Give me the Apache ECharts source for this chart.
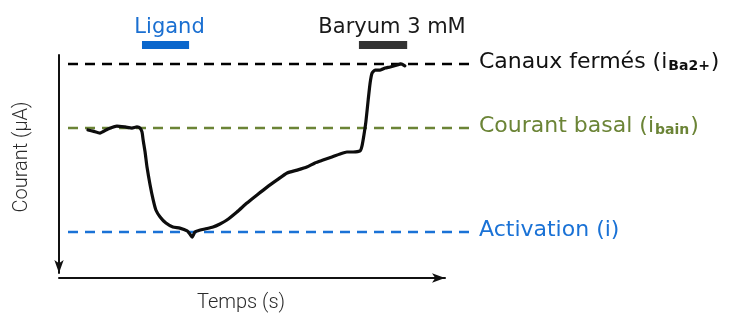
<!DOCTYPE html>
<html>
<head>
<meta charset="utf-8">
<script src="https://cdn.jsdelivr.net/npm/echarts@6/dist/echarts.min.js"></script>
<style>
  html, body { margin: 0; padding: 0; background: #fff; }
  #chart { width: 732px; height: 320px; }
</style>
</head>
<body>
<div id="chart"></div>
<script>
// Recorded current trace (time in s, current in µA, axis pointing downward)
const traceTime = [7.5, 8.8, 10.6, 12.7, 15.0, 17.1, 18.9, 20.2, 21.0, 21.5, 21.8, 22.3, 22.8, 23.6, 24.4, 25.1, 26.2, 27.7, 29.5, 31.3, 33.2, 33.9, 34.5, 35.2, 35.8, 37.8, 39.9, 41.7, 43.5, 46.1, 48.7, 51.3, 53.9, 56.5, 59.1, 61.7, 64.2, 66.3, 68.4, 70.7, 72.8, 74.6, 76.2, 78.0, 78.5, 79.0, 79.5, 80.1, 80.6, 81.1, 81.9, 83.2, 84.5, 85.8, 87.6, 88.6, 89.6];
const traceCurrent = [34.4, 34.9, 35.8, 33.9, 32.6, 33.0, 33.5, 33.0, 33.5, 35.3, 39.0, 44.5, 51.4, 59.6, 66.5, 71.1, 74.3, 77.1, 78.9, 79.4, 80.7, 82.1, 83.5, 81.2, 80.7, 79.8, 78.9, 77.5, 75.7, 72.0, 67.9, 64.2, 60.6, 57.3, 54.1, 52.8, 51.4, 49.5, 48.2, 46.8, 45.4, 44.5, 44.5, 44.0, 41.7, 36.7, 30.7, 20.6, 12.8, 8.3, 6.9, 6.9, 6.0, 5.5, 4.6, 4.1, 5.0];

// Reference current levels
const levelNames = ['Canaux fermés', 'Courant basal', 'Activation'];
const levelValues = [4.1, 33.5, 81.2];

// Application periods (start, end in s) and their labels
const applicationNames = ['Ligand', 'Baryum 3 mM'];
const applicationStart = [21.5, 77.7];
const applicationEnd = [33.7, 90.2];
const applicationLevel = -4.6;

const levelStyles = [
  { color: '#000000', text: '#111111', rich: '{a|Canaux fermés (i}{s|Ba2+}{a|)}' },
  { color: '#6b8436', text: '#6b8436', rich: '{a|Courant basal (i}{s|bain}{a|)}' },
  { color: '#1a72d6', text: '#1a72d6', rich: '{a|Activation (i)}' }
];
const applicationStyles = [
  { bar: '#0a66cc', text: '#1a6fd1', dx: 4 },
  { bar: '#333333', text: '#1a1a1a', dx: 9 }
];

const labelFont = '"DejaVu Sans", Verdana, sans-serif';

const series = [];

// Dashed reference levels with their names at the right end
levelValues.forEach(function (v, i) {
  const st = levelStyles[i];
  series.push({
    name: levelNames[i],
    type: 'line',
    xAxisIndex: 1,
    yAxisIndex: 1,
    data: [[0, v], [1, v]],
    symbol: 'none',
    silent: true,
    animation: false,
    lineStyle: { color: st.color, width: 2.5, type: [10, 7] },
    endLabel: {
      show: true,
      distance: 4,
      offset: [0, -2],
      formatter: st.rich,
      rich: {
        a: { fontFamily: labelFont, fontSize: 22, color: st.text },
        s: { fontFamily: labelFont, fontSize: 14, fontWeight: 'bold', color: st.text, padding: [9, 1, 0, 1] }
      }
    }
  });
});

// Application bars above the trace
applicationNames.forEach(function (name, i) {
  const st = applicationStyles[i];
  const mid = (applicationStart[i] + applicationEnd[i]) / 2;
  series.push({
    name: name,
    type: 'line',
    xAxisIndex: 0,
    yAxisIndex: 0,
    clip: false,
    silent: true,
    animation: false,
    symbol: 'circle',
    symbolSize: 0,
    showSymbol: true,
    lineStyle: { color: st.bar, width: 8, cap: 'butt' },
    data: [
      { value: [applicationStart[i], applicationLevel] },
      {
        value: [mid, applicationLevel],
        label: {
          show: true,
          position: 'top',
          distance: 7,
          offset: [st.dx, 0],
          formatter: name,
          fontFamily: labelFont,
          fontSize: 21,
          color: st.text
        }
      },
      { value: [applicationEnd[i], applicationLevel] }
    ]
  });
});

// Current trace
series.push({
  name: 'Courant',
  type: 'line',
  xAxisIndex: 0,
  yAxisIndex: 0,
  data: traceTime.map(function (t, i) { return [t, traceCurrent[i]]; }),
  symbol: 'none',
  smooth: 0.2,
  animation: false,
  lineStyle: { color: '#0d0d0d', width: 3.2, join: 'round', cap: 'round' }
});

const chart = echarts.init(document.getElementById('chart'), null, { renderer: 'canvas' });
chart.setOption({
  backgroundColor: '#ffffff',
  animation: false,
  grid: [
    { left: 59, right: 287, top: 55, bottom: 47 },
    { left: 68, right: 257, top: 55, bottom: 47 }
  ],
  xAxis: [
    {
      type: 'value', gridIndex: 0, min: 0, max: 100, position: 'bottom', offset: 5,
      name: 'Temps (s)', nameLocation: 'middle', nameGap: 15,
      nameTextStyle: { fontFamily: 'Roboto', fontWeight: 300, fontSize: 20, color: '#2a2a2a', padding: [0, 22, 0, 0] },
      axisLine: { show: true, onZero: false, symbol: ['none', 'arrow'], symbolSize: [7, 13], lineStyle: { color: '#111111', width: 2 } },
      axisTick: { show: false }, axisLabel: { show: false }, splitLine: { show: false }
    },
    {
      type: 'value', gridIndex: 1, min: 0, max: 1, show: false
    }
  ],
  yAxis: [
    {
      type: 'value', gridIndex: 0, min: 0, max: 100, inverse: true,
      name: 'Courant (µA)', nameLocation: 'middle', nameGap: 27, nameRotate: 90,
      nameTextStyle: { fontFamily: 'Roboto', fontWeight: 300, fontSize: 20, color: '#2a2a2a', padding: [0, 0, 0, 14] },
      axisLine: { show: true, onZero: false, symbol: ['arrow', 'none'], symbolSize: [7, 13], lineStyle: { color: '#111111', width: 2 } },
      axisTick: { show: false }, axisLabel: { show: false }, splitLine: { show: false }
    },
    {
      type: 'value', gridIndex: 1, min: 0, max: 100, inverse: true, show: false
    }
  ],
  series: series
});
</script>
</body>
</html>
